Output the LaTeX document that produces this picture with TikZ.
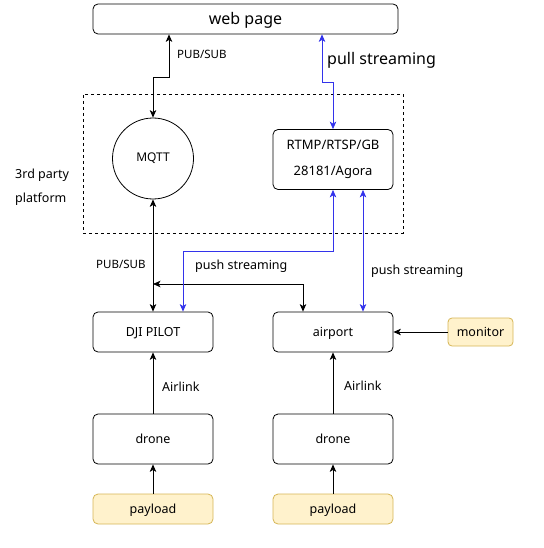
\documentclass[tikz,border=0pt]{standalone}
\usepackage{fontspec}
\setmainfont{Noto Sans}
\usetikzlibrary{arrows.meta}
\definecolor{blu}{RGB}{51,51,235}
\definecolor{yfill}{HTML}{FFF2CC}
\definecolor{ydraw}{HTML}{D6B656}
\begin{document}
\begin{tikzpicture}[x=1pt,y=-1pt,
  box/.style={draw,rounded corners=5pt,line width=0.8pt,inner sep=0pt,
    minimum width=120pt,minimum height=40pt,font=\fontsize{12.5}{15}\selectfont,
    text height=11pt,text depth=2.5pt},
  ybox/.style={box,fill=yfill,draw=ydraw},
  lbl/.style={inner sep=0pt,anchor=west,font=\fontsize{12.5}{15}\selectfont,yshift=-1.5pt},
  tip/.style={},
  conn/.style={line width=0.8pt,-{Stealth[length=7.5pt,width=6.5pt,inset=2pt]}},
  dconn/.style={line width=0.8pt,{Stealth[length=7.5pt,width=6.5pt,inset=2pt]}-{Stealth[length=7.5pt,width=6.5pt,inset=2pt]}},
  bconn/.style={dconn,draw=blu}]
\useasboundingbox (0,0) rectangle (543,548);
% platform frame
\node[draw,dashed,line width=0.7pt,minimum width=320pt,minimum height=139pt,inner sep=0pt] (frame) at (243,163.5) {};
% nodes
\node[box,minimum width=305pt,minimum height=30pt,font=\fontsize{16}{19}\selectfont,text height=14pt,text depth=3pt] (web) at (245.5,19) {web page};
\node[draw,circle,line width=0.8pt,minimum size=81pt,inner sep=0pt,font=\fontsize{12}{14}\selectfont] (mqtt) at (153,158.5) {MQTT};
\node[box,minimum height=60pt,align=center,font=\fontsize{13}{26}\selectfont,text height=,text depth=] (rtmp) at (333,159.5) {RTMP/RTSP/GB\\28181/Agora};
\node[box] (pilot) at (153,332) {DJI PILOT};
\node[box] (airport) at (333,332) {airport};
\node[ybox,minimum width=65pt,minimum height=28pt,rounded corners=4pt] (monitor) at (480.5,332) {monitor};
\node[box,minimum height=50pt] (drone1) at (153,439) {drone};
\node[box,minimum height=50pt] (drone2) at (333,439) {drone};
\node[ybox,minimum height=30pt] (payload1) at (153,509) {payload};
\node[ybox,minimum height=30pt] (payload2) at (333,509) {payload};
% bend coordinates
\coordinate (c1) at (169,77);
\coordinate (c2) at (322,82);
\coordinate (c3) at (303,284);
\coordinate (c4) at (183,251);
\coordinate (c5) at (363,0);
% connectors
\draw[dconn] (web.south -| c1) -- (c1) -| (mqtt.north);
\draw[bconn] (web.south -| c2) -- (c2) -| (rtmp.north);
\draw[dconn] (mqtt.south) -- (pilot.north);
\draw[dconn] (c3 -| mqtt.south) -- (c3) -- (airport.north -| c3);
\draw[bconn] (rtmp.south) |- (c4) -- (pilot.north -| c4);
\draw[bconn] (rtmp.south -| c5) -- (airport.north -| c5);
\draw[conn] (monitor.west) -- (airport.east);
\draw[conn] (drone1.north) -- (pilot.south);
\draw[conn] (drone2.north) -- (airport.south);
\draw[conn] (payload1.north) -- (drone1.south);
\draw[conn] (payload2.north) -- (drone2.south);
% labels
\node[lbl,font=\fontsize{11.5}{14}\selectfont] (l1) at (177,53) {PUB/SUB};
\node[lbl,font=\fontsize{16}{19}\selectfont] (l2) at (327,59) {pull streaming};
\node[lbl] (l3) at (15,174) {3rd party};
\node[lbl] (l4) at (15,198) {platform};
\node[lbl,font=\fontsize{11.5}{14}\selectfont] (l5) at (96,263) {PUB/SUB};
\node[lbl] (l6) at (195,265) {push streaming};
\node[lbl] (l7) at (371,270) {push streaming};
\node[lbl] (l8) at (162,385) {Airlink};
\node[lbl] (l9) at (344,384) {Airlink};
\end{tikzpicture}
\end{document}
